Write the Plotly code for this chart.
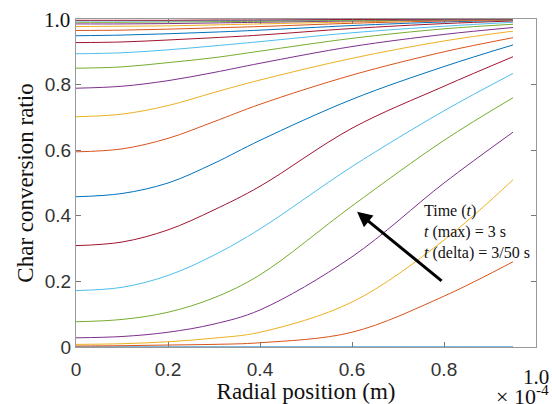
import plotly.graph_objects as go

x_pos = [0, 0.1, 0.2, 0.3, 0.4, 0.6, 0.8, 0.95]

curves = [
    [0, 0, 0, 0, 0, 0, 0, 0],
    [0.003, 0.004, 0.006, 0.008, 0.013, 0.045, 0.155, 0.26],
    [0.008, 0.01, 0.016, 0.027, 0.045, 0.137, 0.326, 0.51],
    [0.028, 0.032, 0.045, 0.07, 0.113, 0.275, 0.50, 0.655],
    [0.077, 0.084, 0.106, 0.15, 0.22, 0.43, 0.63, 0.76],
    [0.172, 0.182, 0.218, 0.28, 0.36, 0.55, 0.72, 0.834],
    [0.309, 0.32, 0.357, 0.418, 0.49, 0.667, 0.795, 0.885],
    [0.458, 0.468, 0.5, 0.56, 0.63, 0.755, 0.855, 0.921],
    [0.595, 0.604, 0.636, 0.687, 0.74, 0.829, 0.90, 0.943],
    [0.702, 0.71, 0.736, 0.776, 0.814, 0.88, 0.933, 0.963],
    [0.789, 0.795, 0.812, 0.837, 0.865, 0.916, 0.953, 0.974],
    [0.85, 0.854, 0.867, 0.882, 0.902, 0.941, 0.97, 0.984],
    [0.894, 0.897, 0.906, 0.918, 0.931, 0.958, 0.978, 0.99],
    [0.928, 0.93, 0.936, 0.943, 0.951, 0.971, 0.986, 0.994],
    [0.949, 0.951, 0.955, 0.96, 0.966, 0.98, 0.991, 0.996],
    [0.965, 0.966, 0.969, 0.973, 0.977, 0.987, 0.994, 0.997],
    [0.977, 0.978, 0.979, 0.982, 0.985, 0.991, 0.996, 0.998],
    [0.985, 0.985, 0.986, 0.988, 0.99, 0.994, 0.997, 0.999],
    [0.99, 0.99, 0.991, 0.992, 0.993, 0.996, 0.998, 0.9993],
    [0.994, 0.994, 0.994, 0.995, 0.996, 0.998, 0.999, 0.9996],
    [0.996, 0.996, 0.996, 0.997, 0.997, 0.9985, 0.9994, 0.9998],
]

colors = ['#0072BD', '#D95319', '#EDB120', '#7E2F8E', '#77AC30', '#4DBEEE', '#A2142F']

x_ticks = [0, 0.2, 0.4, 0.6, 0.8, 1.0]
x_ticklabels = ['0', '0.2', '0.4', '0.6', '0.8', ' ']
y_ticks = [0, 0.2, 0.4, 0.6, 0.8, 1.0]
y_ticklabels = ['0', '0.2', '0.4', '0.6', '0.8', ' ']
serif_label = '1.0'

SERIF = 'Liberation Serif, Times New Roman'

fig = go.Figure()
for i, c in enumerate(curves):
    fig.add_trace(go.Scatter(
        x=x_pos, y=c, mode='lines',
        line=dict(color=colors[i % len(colors)], width=1, shape='spline', smoothing=1.0),
        showlegend=False, hoverinfo='skip'))

axis_common = dict(
    showline=True, mirror='ticks', linecolor='#999999', linewidth=1,
    ticks='inside', ticklen=5, tickcolor='#777777',
    showgrid=False, zeroline=False, automargin=False,
    tickfont=dict(family='Liberation Sans, Arial', size=19, color='#333333'),
)

fig.update_layout(
    width=552, height=404,
    margin=dict(l=76, r=16, t=19, b=57),
    paper_bgcolor='white', plot_bgcolor='white',
    xaxis=dict(range=[0, 1.0], tickvals=x_ticks, ticktext=x_ticklabels,
               ticklabelstandoff=5,
               title=dict(text='Radial position (m)', standoff=6,
                          font=dict(family=SERIF, size=23, color='#111111')),
               **axis_common),
    yaxis=dict(range=[0, 1.0], tickvals=y_ticks, ticktext=y_ticklabels,
               title=dict(text='Char conversion ratio', standoff=4,
                          font=dict(family=SERIF, size=23, color='#111111')),
               **axis_common),
)

# serif "1.0" tick labels
fig.add_annotation(x=0, y=1.0, xref='paper', yref='y', xanchor='right', yanchor='middle',
                   xshift=-4, yshift=-1, showarrow=False, text=serif_label,
                   font=dict(family=SERIF, size=21, color='#111111'))
fig.add_annotation(x=1.0, y=-0.09, xref='paper', yref='paper', xanchor='center', yanchor='middle',
                   showarrow=False, text=serif_label,
                   font=dict(family=SERIF, size=21, color='#111111'))

fig.add_annotation(
    x=0.611, y=0.412, ax=0.798, ay=0.198,
    xref='x', yref='y', axref='x', ayref='y',
    showarrow=True, arrowhead=2, arrowsize=1.0, arrowwidth=3, arrowcolor='black', text='')

fig.add_annotation(
    x=0.752, y=0.35, xref='x', yref='y', xanchor='left', yanchor='middle', showarrow=False,
    align='left',
    text='Time (<i>t</i>)<br><i>t</i> (max) = 3 s<br><i>t</i> (delta) = 3/50 s',
    font=dict(family=SERIF, size=16, color='#111111'))

fig.add_annotation(
    x=0.97, y=-0.145, xref='paper', yref='paper', xanchor='center', yanchor='middle', showarrow=False,
    text='× 10<sup>-4</sup>',
    font=dict(family=SERIF, size=22, color='#111111'))

fig.write_html('out.html')
